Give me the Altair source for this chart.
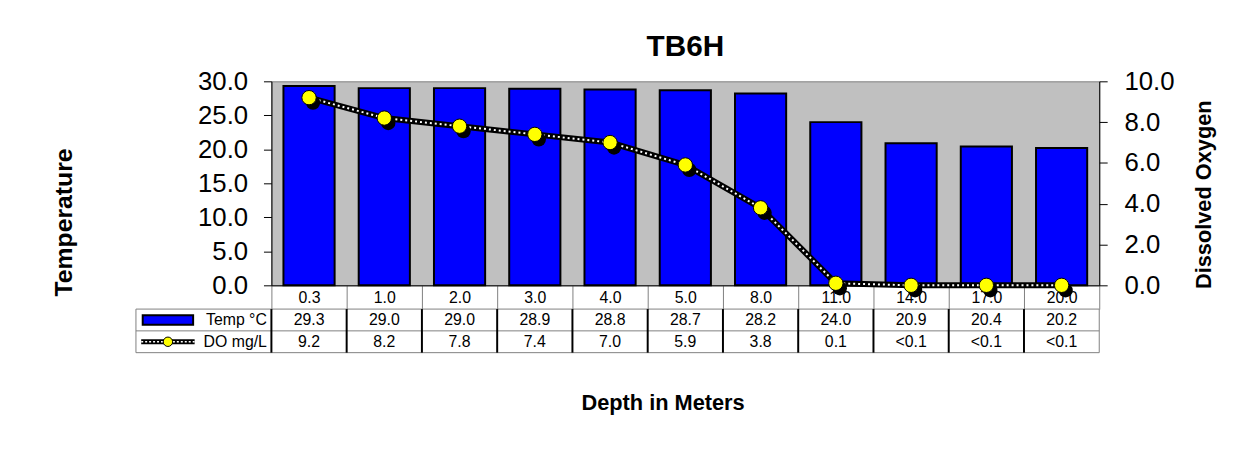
import altair as alt
import pandas as pd

# ---------------- data ----------------
DEPTHS = ["0.3", "1.0", "2.0", "3.0", "4.0", "5.0", "8.0", "11.0", "14.0", "17.0", "20.0"]
TEMP = [29.3, 29.0, 29.0, 28.9, 28.8, 28.7, 28.2, 24.0, 20.9, 20.4, 20.2]
DO_VALUES = [9.2, 8.2, 7.8, 7.4, 7.0, 5.9, 3.8, 0.1, 0.0, 0.0, 0.0]
DO_LABELS = ["9.2", "8.2", "7.8", "7.4", "7.0", "5.9", "3.8", "0.1", "<0.1", "<0.1", "<0.1"]
TEMP_TICKS = [0, 5, 10, 15, 20, 25, 30]
DO_TICKS = [0, 2, 4, 6, 8, 10]
ROW_NAMES = ["Temp °C", "DO mg/L"]
TITLE = "TB6H"
Y_LEFT_TITLE = "Temperature"
Y_RIGHT_TITLE = "Dissolved Oxygen"
X_TITLE = "Depth in Meters"

# ---------------- style / layout ----------------
FONT = "Liberation Sans"
BLUE = "#0000FF"
YELLOW = "#FFFF00"
PLOT_BG = "#C0C0C0"
GRID_GRAY = "#808080"
W, H = 836, 206
ROW_H = 22
DEPTH_ROW_H = 24
LEG_LEFT = -1.8  # legend column left edge, in band units
TABLE_RANGE = [H + DEPTH_ROW_H, H + DEPTH_ROW_H + 2 * ROW_H]  # pixel span of the two data rows

main_df = pd.DataFrame({"depth": DEPTHS, "temp": TEMP, "do": DO_VALUES})

x_scale = alt.Scale(paddingInner=0, paddingOuter=0)
x_axis = alt.Axis(
    title=None, labelAngle=0, labelFont=FONT, labelFontSize=16, labelColor="black",
    tickBand="extent", tickSize=DEPTH_ROW_H, tickColor=GRID_GRAY, tickWidth=1,
    domainColor="black", domainWidth=1, labelPadding=-12, labelBaseline="middle",
    orient="bottom",
)
x_main = alt.X("depth:N", sort=DEPTHS, scale=x_scale, axis=x_axis)
x_main_noaxis = alt.X("depth:N", sort=DEPTHS, scale=x_scale, axis=None)

bars = alt.Chart(main_df).mark_bar(
    color=BLUE, stroke="black", strokeWidth=2, width=alt.RelativeBandSize(0.68)
).encode(
    x=x_main,
    y=alt.Y(
        "temp:Q",
        scale=alt.Scale(domain=[0, 30], nice=False),
        axis=alt.Axis(
            values=TEMP_TICKS, format=".1f", title=Y_LEFT_TITLE, grid=False, orient="left",
            labelFont=FONT, labelFontSize=26, labelColor="black", labelPadding=16,
            tickSize=8, tickColor="black", domainColor="black",
            titleFont=FONT, titleFontSize=25, titleFontWeight="bold", titleColor="black",
            titlePadding=122, titleY=142,
        ),
    ),
)

do_scale = alt.Scale(domain=[0, 10], nice=False)
do_axis = alt.Axis(
    values=DO_TICKS, format=".1f", title=Y_RIGHT_TITLE, grid=False, orient="right",
    labelFont=FONT, labelFontSize=26, labelColor="black", labelPadding=17,
    tickSize=8, tickColor="black", domainColor="black",
    titleFont=FONT, titleFontSize=22, titleFontWeight="bold", titleColor="black",
    titleAngle=270, titleBaseline="top", titlePadding=20, titleY=114,
)

line_black = alt.Chart(main_df).mark_line(color="black", strokeWidth=6).encode(
    x=x_main_noaxis, y=alt.Y("do:Q", scale=do_scale, axis=do_axis)
)
line_white = alt.Chart(main_df).mark_line(color="white", strokeWidth=2, strokeDash=[2, 3]).encode(
    x=x_main_noaxis, y=alt.Y("do:Q", scale=do_scale, axis=None)
)
shadow = alt.Chart(main_df).mark_circle(color="black", size=210, opacity=1, xOffset=4, yOffset=5).encode(
    x=x_main_noaxis, y=alt.Y("do:Q", scale=do_scale, axis=None)
)
dots = alt.Chart(main_df).mark_circle(fill=YELLOW, stroke="black", strokeWidth=1, size=210, opacity=1).encode(
    x=x_main_noaxis, y=alt.Y("do:Q", scale=do_scale, axis=None)
)

# ---------------- data table (below the plot) ----------------
n = len(DEPTHS)
cells = []
for i in range(n):
    cells.append({"x": i + 0.5, "y": 0.5, "text": f"{TEMP[i]:.1f}"})
    cells.append({"x": i + 0.5, "y": 1.5, "text": DO_LABELS[i]})
cells_df = pd.DataFrame(cells)

xs = alt.Scale(domain=[0, n], nice=False, zero=False)
ys = alt.Scale(domain=[0, 2], nice=False, zero=False, range=TABLE_RANGE)


def tx(field):
    return alt.X(field, scale=xs, axis=None)


def ty(field):
    return alt.Y(field, scale=ys, axis=None)


table_text = alt.Chart(cells_df).mark_text(font=FONT, fontSize=16, color="black").encode(
    x=alt.X("x:Q", scale=xs,
            axis=alt.Axis(title=X_TITLE, labels=False, ticks=False, domain=False, grid=False,
                          orient="bottom", titleFont=FONT, titleFontSize=22,
                          titleFontWeight="bold", titleColor="black", titlePadding=108,
                          titleX=395)),
    y=ty("y:Q"), text="text:N",
)

inner_v = pd.DataFrame({"x": list(range(0, n)), "y0": [0] * n, "y1": [2] * n})
vlines = alt.Chart(inner_v).mark_rule(color="black", strokeWidth=2).encode(
    x=tx("x:Q"), y=ty("y0:Q"), y2="y1:Q"
)
outer_v = pd.DataFrame({"x": [LEG_LEFT, n], "y0": [0, 0], "y1": [2, 2]})
vlines_outer = alt.Chart(outer_v).mark_rule(color=GRID_GRAY, strokeWidth=1).encode(
    x=tx("x:Q"), y=ty("y0:Q"), y2="y1:Q"
)
h_df = pd.DataFrame({"y": [0, 1, 2], "xa": [LEG_LEFT] * 3, "xb": [n] * 3})
hlines = alt.Chart(h_df).mark_rule(color=GRID_GRAY, strokeWidth=1).encode(
    y=ty("y:Q"), x=tx("xa:Q"), x2="xb:Q"
)

# legend column
leg_text_df = pd.DataFrame({"x": [-0.06, -0.06], "y": [0.5, 1.5], "text": ROW_NAMES})
leg_text = alt.Chart(leg_text_df).mark_text(
    font=FONT, fontSize=16, color="black", align="right"
).encode(x=tx("x:Q"), y=ty("y:Q"), text="text:N")

leg_rect_df = pd.DataFrame({"xa": [-1.71], "xb": [-1.04], "ya": [0.28], "yb": [0.72]})
leg_rect = alt.Chart(leg_rect_df).mark_rect(fill=BLUE, stroke="black", strokeWidth=2).encode(
    x=tx("xa:Q"), x2="xb:Q", y=ty("ya:Q"), y2="yb:Q"
)
leg_line_df = pd.DataFrame({"x": [-1.73, -1.02], "y": [1.5, 1.5]})
leg_line_b = alt.Chart(leg_line_df).mark_line(color="black", strokeWidth=5).encode(
    x=tx("x:Q"), y=ty("y:Q")
)
leg_line_w = alt.Chart(leg_line_df).mark_line(color="white", strokeWidth=1.5, strokeDash=[2, 2]).encode(
    x=tx("x:Q"), y=ty("y:Q")
)
leg_dot_df = pd.DataFrame({"x": [-1.375], "y": [1.5]})
leg_dot = alt.Chart(leg_dot_df).mark_circle(
    fill=YELLOW, stroke="black", strokeWidth=1, size=90, opacity=1
).encode(x=tx("x:Q"), y=ty("y:Q"))

chart = alt.layer(
    bars, line_black, line_white, shadow, dots,
    hlines, vlines_outer, vlines, table_text, leg_rect, leg_line_b, leg_line_w, leg_dot, leg_text,
).resolve_scale(x="independent", y="independent").properties(
    width=W, height=H,
    title=alt.TitleParams(TITLE, font=FONT, fontSize=30, fontWeight="bold", color="black",
                          anchor="middle", offset=7),
    padding={"left": 44, "top": 22, "right": 10, "bottom": 10},
    background="white",
).configure(font=FONT).configure_view(fill=PLOT_BG, stroke=GRID_GRAY, strokeWidth=1)

chart.save("out.html", embed_options={"renderer": "svg", "actions": False})
